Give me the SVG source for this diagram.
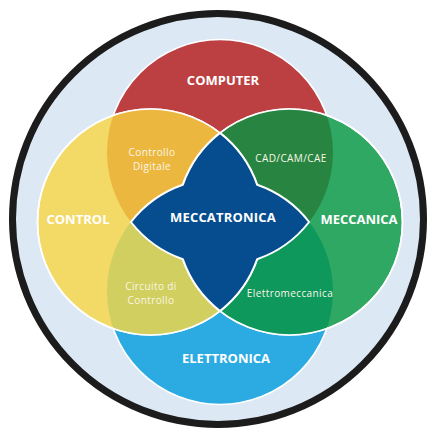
<svg xmlns="http://www.w3.org/2000/svg" width="427" height="433" viewBox="0 0 427 433">
  <style>
    .ring { stroke: #ffffff; stroke-width: 1.6; }
    .big { font-family: "Open Sans", "Liberation Sans", sans-serif; font-weight: 700; font-size: 13px; fill: #ffffff; text-anchor: middle; }
    .small { font-family: "Open Sans", "Liberation Sans", sans-serif; font-weight: 400; font-size: 10px; letter-spacing: 0.4px; fill: #fbf6e6; text-anchor: middle; }
  </style>
  <defs>
    <clipPath id="clipRed"><circle cx="220" cy="152.5" r="113"/></clipPath>
    <clipPath id="clipBlue"><circle cx="220" cy="291.5" r="113"/></clipPath>
  </defs>
  <rect width="427" height="433" fill="#ffffff"/>
  <g id="frame">
    <circle cx="218" cy="219" r="205.5" fill="#dde8f5" stroke="#1c1c1c" stroke-width="7"/>
  </g>
  <g id="computer">
    <circle cx="220" cy="152.5" r="113" fill="#bc3f42" class="ring"/>
    <text class="big" x="223" y="85">COMPUTER</text>
  </g>
  <g id="elettronica">
    <circle cx="220" cy="291.5" r="113" fill="#2cabe3" class="ring"/>
    <text class="big" x="226" y="363" font-size="13.5">ELETTRONICA</text>
  </g>
  <g id="control">
    <circle cx="150.5" cy="222" r="113" fill="#f3d966" class="ring"/>
  </g>
  <g id="meccanica">
    <circle cx="289.5" cy="222" r="113" fill="#2fa863" class="ring"/>
  </g>
  <g id="controllo-digitale">
    <circle cx="150.5" cy="222" r="113" fill="#ecb73f" clip-path="url(#clipRed)"/>
  </g>
  <g id="cad-cam-cae">
    <circle cx="289.5" cy="222" r="113" fill="#278541" clip-path="url(#clipRed)"/>
  </g>
  <g id="circuito-di-controllo">
    <circle cx="150.5" cy="222" r="113" fill="#d1cf60" clip-path="url(#clipBlue)"/>
  </g>
  <g id="elettromeccanica">
    <circle cx="289.5" cy="222" r="113" fill="#0e985c" clip-path="url(#clipBlue)"/>
  </g>
  <g id="outlines" fill="none">
    <circle cx="150.5" cy="222" r="113" class="ring"/>
    <circle cx="289.5" cy="222" r="113" class="ring"/>
  </g>
  <g id="labels">
    <text class="big" x="78" y="224">CONTROL</text>
    <text class="big" x="359" y="224">MECCANICA</text>
    <text class="small" x="152" y="156">Controllo</text>
    <text class="small" x="152" y="170">Digitale</text>
    <text class="small" x="291" y="162">CAD/CAM/CAE</text>
    <text class="small" x="151" y="290">Circuito di</text>
    <text class="small" x="151" y="304">Controllo</text>
    <text class="small" x="290" y="297">Elettromeccanica</text>
  </g>
  <g id="meccatronica">
    <path d="M220,132.9 A113,113 0 0 1 257.2,184.8 A113,113 0 0 1 309.1,222 A113,113 0 0 1 257.2,259.2 A113,113 0 0 1 220,311.1 A113,113 0 0 1 182.8,259.2 A113,113 0 0 1 130.9,222 A113,113 0 0 1 182.8,184.8 A113,113 0 0 1 220,132.9 Z" fill="#064d8f" stroke="#ffffff" stroke-width="2" stroke-linejoin="miter"/>
    <text class="big" x="223" y="222" font-size="16" letter-spacing="0.2">MECCATRONICA</text>
  </g>
  <g id="connectors"/>
</svg>
